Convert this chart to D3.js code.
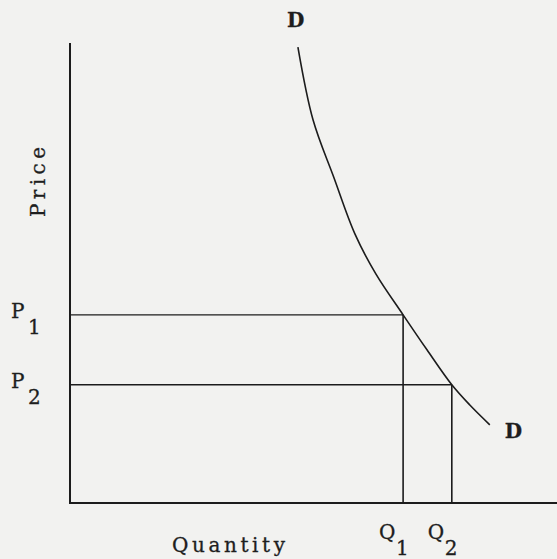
<!DOCTYPE html>
<html>
<head>
<meta charset="utf-8">
<script src="https://cdn.jsdelivr.net/npm/d3@7"></script>
<style>
  html, body { margin: 0; padding: 0; background: #f2f2f0; }
  svg { display: block; }
  text { font-family: "DejaVu Serif", "Liberation Serif", serif; fill: #1e1e1e; stroke: #1e1e1e; stroke-width: 0.3px; }
</style>
</head>
<body>
<svg id="chart" width="557" height="559"></svg>
<script>
// ---- data ----
const demandQuantity = [46.8, 49.9, 54.2, 58.5, 62.8, 68.4, 73.3, 78.4, 82.1, 86.2];
const demandPrice    = [99.1, 83.3, 70.7, 58.5, 49.8, 40.9, 33.3, 25.7, 21.3, 17.0];
const priceLevels    = [40.9, 25.7];
const quantityLevels = [68.4, 78.4];
const priceNames     = ["P", "P"];
const quantityNames  = ["Q", "Q"];
const subscripts     = ["1", "2"];
const curveLabel     = "D";
const xTitle         = "Quantity";
const yTitle         = "Price";

// ---- layout ----
const svg = d3.select("#chart");
const x = d3.scaleLinear().domain([0, 100]).range([70, 557]);
const y = d3.scaleLinear().domain([0, 100]).range([503, 43]);
const ink = "#1c1c1c";

// axes
svg.append("line")
  .attr("x1", x(0)).attr("x2", x(0))
  .attr("y1", y(0) + 1).attr("y2", y(100))
  .attr("stroke", ink).attr("stroke-width", 2);
svg.append("line")
  .attr("x1", x(0)).attr("x2", x(100))
  .attr("y1", y(0)).attr("y2", y(0))
  .attr("stroke", ink).attr("stroke-width", 2);

// guide lines
priceLevels.forEach((p, i) => {
  const q = quantityLevels[i];
  svg.append("line")
    .attr("x1", x(0)).attr("x2", x(q))
    .attr("y1", y(p)).attr("y2", y(p))
    .attr("stroke", ink).attr("stroke-width", 1.4);
  svg.append("line")
    .attr("x1", x(q)).attr("x2", x(q))
    .attr("y1", y(p)).attr("y2", y(0))
    .attr("stroke", ink).attr("stroke-width", 1.6);
});

// demand curve
const pts = demandQuantity.map((q, i) => [q, demandPrice[i]]);
svg.append("path")
  .datum(pts)
  .attr("fill", "none")
  .attr("stroke", ink)
  .attr("stroke-width", 1.6)
  .attr("d", d3.line().x(d => x(d[0])).y(d => y(d[1])).curve(d3.curveCatmullRom.alpha(0.5)));

const fs = 20;

// curve labels
svg.append("text").attr("x", x(demandQuantity[0]) - 11).attr("y", 27)
  .attr("font-size", 20).attr("font-weight", "bold").text(curveLabel);
svg.append("text").attr("x", x(demandQuantity[demandQuantity.length - 1]) + 15)
  .attr("y", y(demandPrice[demandPrice.length - 1]) + 13)
  .attr("font-size", 20).attr("font-weight", "bold").text(curveLabel);

// price labels
priceLevels.forEach((p, i) => {
  svg.append("text").attr("font-size", fs)
    .attr("x", 11).attr("y", y(p) + 3).text(priceNames[i]);
  svg.append("text").attr("font-size", fs)
    .attr("x", 28).attr("y", y(p) + 19).text(subscripts[i]);
});

// quantity labels
quantityLevels.forEach((q, i) => {
  svg.append("text").attr("font-size", fs)
    .attr("x", x(q) - 24).attr("y", 539).text(quantityNames[i]);
  svg.append("text").attr("font-size", fs)
    .attr("x", x(q) - 7).attr("y", 555).text(subscripts[i]);
});

// axis titles
svg.append("text").attr("font-size", fs)
  .attr("x", 172).attr("y", 552)
  .attr("textLength", 113).attr("lengthAdjust", "spacing")
  .text(xTitle);
svg.append("text").attr("font-size", fs)
  .attr("transform", "translate(45,217) rotate(-90)")
  .attr("textLength", 70).attr("lengthAdjust", "spacing")
  .text(yTitle);
</script>
</body>
</html>
